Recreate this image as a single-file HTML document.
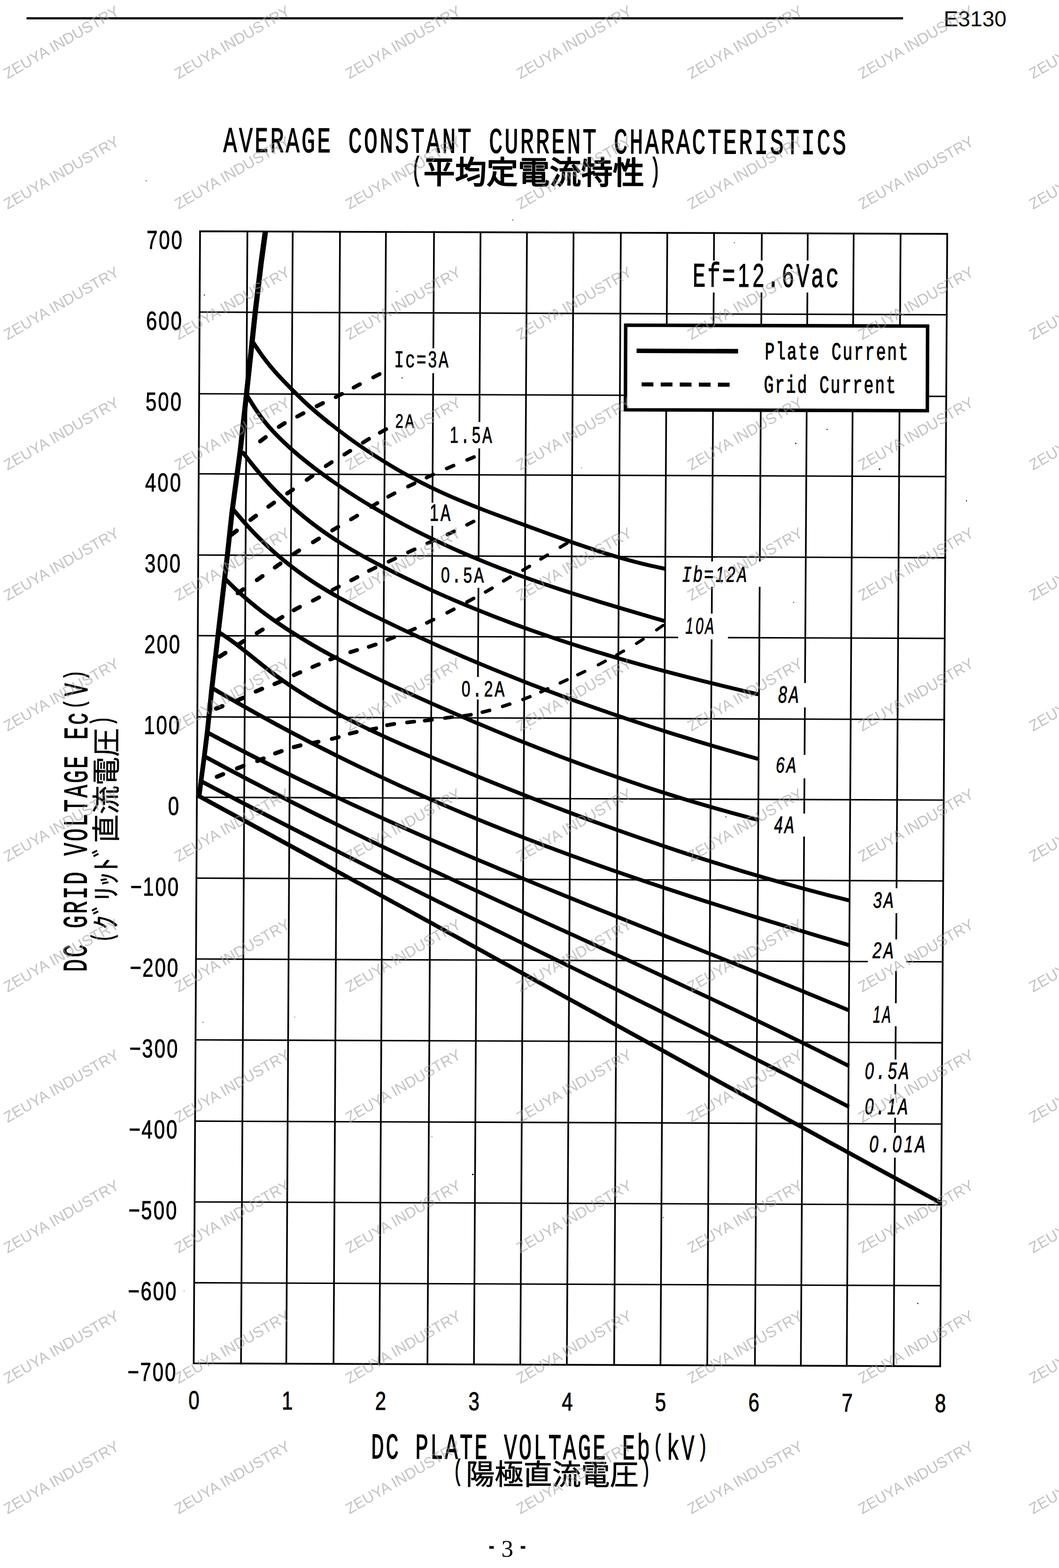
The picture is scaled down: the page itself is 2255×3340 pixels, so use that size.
<!DOCTYPE html>
<html lang="en"><head><meta charset="utf-8"><title>E3130 - Average Constant Current Characteristics</title>
<style>html,body{margin:0;padding:0;background:#fff}body{width:2255px;height:3340px;overflow:hidden}svg{display:block}text{font-family:"Liberation Mono",monospace;white-space:pre;text-rendering:geometricPrecision}.wm text,tspan.d{font-family:"Liberation Sans",sans-serif}</style></head><body>
<svg width="2255" height="3340" viewBox="0 0 2255 3340">
<rect width="2255" height="3340" fill="#fff"/>
<rect x="56.5" y="36.7" width="1866.5" height="4.6" fill="#000"/>
<text x="2009.5" y="56" font-family="Liberation Sans" style="font-family:'Liberation Sans',sans-serif" font-size="46.2" textLength="133.6" fill="#000">E3130</text>
<g stroke="#000" fill="none" stroke-linecap="square">
<line x1="526.8" y1="492.9" x2="513.2" y2="2904.4" stroke-width="3.6"/>
<line x1="623.3" y1="493.3" x2="609.6" y2="2904.8" stroke-width="3.6"/>
<line x1="724" y1="493.6" x2="710.2" y2="2905.2" stroke-width="3.6"/>
<line x1="821.8" y1="494" x2="807.9" y2="2905.6" stroke-width="3.6"/>
<line x1="924.2" y1="494.4" x2="910.2" y2="2906" stroke-width="3.6"/>
<line x1="1023.2" y1="494.7" x2="1009.2" y2="2906.4" stroke-width="3.6"/>
<line x1="1122.1" y1="495.1" x2="1107.9" y2="2906.8" stroke-width="3.6"/>
<line x1="1221.3" y1="495.4" x2="1207" y2="2907.2" stroke-width="3.6"/>
<line x1="1322" y1="495.8" x2="1307.7" y2="2907.5" stroke-width="3.6"/>
<line x1="1420.9" y1="496.1" x2="1406.4" y2="2907.9" stroke-width="3.6"/>
<line x1="1520.5" y1="496.4" x2="1506" y2="2908.3" stroke-width="3.6"/>
<line x1="1622.2" y1="496.8" x2="1607.5" y2="2908.7" stroke-width="3.6"/>
<line x1="1720" y1="497.1" x2="1705.3" y2="2909.1" stroke-width="3.6"/>
<line x1="1817.8" y1="497.5" x2="1803" y2="2909.5" stroke-width="3.6"/>
<line x1="1917.7" y1="497.9" x2="1902.8" y2="2909.9" stroke-width="3.6"/>
<line x1="425" y1="664.8" x2="2015.9" y2="670.5" stroke-width="3.1"/>
<line x1="424.1" y1="838.7" x2="2014.9" y2="844.4" stroke-width="3.1"/>
<line x1="423.1" y1="1009.3" x2="2013.8" y2="1015.1" stroke-width="3.1"/>
<line x1="422.1" y1="1182.3" x2="2012.7" y2="1188.1" stroke-width="3.1"/>
<line x1="421.2" y1="1354" x2="2011.6" y2="1359.9" stroke-width="3.1"/>
<line x1="420.2" y1="1527" x2="2010.6" y2="1532.9" stroke-width="3.1"/>
<line x1="419.2" y1="1698.3" x2="2009.5" y2="1704.2" stroke-width="3.1"/>
<line x1="418.3" y1="1870.5" x2="2008.4" y2="1876.5" stroke-width="3.1"/>
<line x1="417.3" y1="2042.8" x2="2007.4" y2="2048.8" stroke-width="3.1"/>
<line x1="416.4" y1="2215" x2="2006.3" y2="2221.1" stroke-width="3.1"/>
<line x1="415.4" y1="2388.1" x2="2005.2" y2="2394.2" stroke-width="3.1"/>
<line x1="414.4" y1="2560.2" x2="2004.1" y2="2566.4" stroke-width="3.1"/>
<line x1="413.5" y1="2732.4" x2="2003.1" y2="2738.6" stroke-width="3.1"/>
</g>
<g fill="#fff">
<rect x="1470" y="555" width="322" height="68"/>
<rect x="836" y="742" width="124" height="53"/>
<rect x="955" y="899" width="98" height="56"/>
<rect x="912" y="1071" width="52" height="49"/>
<rect x="934" y="1195" width="102" height="57"/>
<rect x="978" y="1442" width="102" height="48"/>
<rect x="1446" y="1196" width="179" height="54"/>
<rect x="1444" y="1307" width="106" height="55"/>
<rect x="1650" y="1455" width="70" height="52"/>
<rect x="1646" y="1608" width="74" height="50"/>
<rect x="1640" y="1733" width="80" height="49"/>
<rect x="1852" y="1892" width="63" height="53"/>
<rect x="1848" y="2001" width="82" height="67"/>
<rect x="1852" y="2137" width="63" height="49"/>
<rect x="1836" y="2257" width="104" height="52"/>
<rect x="1836" y="2331" width="104" height="50"/>
<rect x="1845" y="2413" width="130" height="53"/>
</g>
<path d="M426 492.6 L2017 498.2 L2002 2910.3 L412.5 2904 Z" fill="none" stroke="#000" stroke-width="3.7" stroke-linejoin="miter"/>
<path d="M1332.3 692.6 L1975.2 694.6 L1974.6 874.9 L1331.7 872.9 Z" fill="#fff" stroke="#000" stroke-width="7.4"/>
<line x1="1355.6" y1="747.3" x2="1571.7" y2="748.1" stroke="#000" stroke-width="9.6"/>
<line x1="1366.3" y1="818.8" x2="1553.7" y2="819.5" stroke="#000" stroke-width="8.6" stroke-dasharray="25 15.6"/>
<g fill="none" stroke="#000" stroke-width="7" stroke-linecap="butt" stroke-linejoin="round">
<path d="M538 727.9C538.9 729.3 539.9 730.7 540.8 732.1C546.8 740.9 552.5 749.8 558.8 758.4C564.6 766.2 570.6 773.9 576.8 781.4C582.6 788.4 588.7 795.1 594.8 801.8C600.7 808.2 606.7 814.4 612.8 820.6C618.7 826.8 624.7 832.8 630.8 838.8C636.7 844.7 642.7 850.5 648.8 856.3C654.7 861.8 660.7 867.2 666.8 872.5C672.7 877.7 678.7 882.7 684.8 887.7C690.7 892.7 696.8 897.5 702.8 902.3C708.8 907 714.8 911.7 720.8 916.3C726.8 920.9 732.8 925.4 738.8 929.8C744.8 934.2 750.8 938.5 756.8 942.8C771.6 953.3 786.6 963.4 801.8 973.1C816.6 982.6 831.6 991.8 846.8 1000.6C861.6 1009.1 876.6 1017.3 891.8 1025.2C906.6 1032.9 921.6 1040.2 936.8 1047.2C951.7 1054.1 966.7 1060.6 981.8 1066.9C996.7 1073.2 1011.7 1079.1 1026.8 1085C1041.7 1090.8 1056.8 1096.3 1071.8 1101.9C1086.8 1107.4 1101.8 1112.9 1116.8 1118.3C1131.8 1123.8 1146.8 1129.3 1161.8 1134.8C1176.8 1140.2 1191.8 1145.7 1206.8 1151C1221.8 1156.3 1236.7 1161.5 1251.8 1166.5C1266.7 1171.5 1281.7 1176.4 1296.8 1181C1311.7 1185.6 1326.7 1190 1341.8 1194.1C1356.7 1198.1 1371.7 1202 1386.8 1205.3C1396.7 1207.6 1406.7 1209.5 1416.7 1211.6" stroke-width="8.3"/>
<path d="M538 727.9C538.9 729.3 539.9 730.7 540.8 732.1C546.8 740.9 552.5 749.8 558.8 758.4C564.6 766.2 570.6 773.9 576.8 781.4C582.6 788.4 588.7 795.1 594.8 801.8C600.7 808.2 606.7 814.4 612.8 820.6C618.7 826.8 624.7 832.8 630.8 838.8C636.7 844.7 642.7 850.5 648.8 856.3C654.7 861.8 660.7 867.2 666.8 872.5C672.7 877.7 678.7 882.7 684.8 887.7C690.7 892.7 696.8 897.4 702.8 902.3" stroke-width="8.6"/>
<path d="M524.1 839.5C525 840.9 525.9 842.4 526.8 843.8C532.8 853.3 538.5 863.1 544.8 872.4C550.5 880.8 556.4 889.2 562.8 897.2C568.5 904.4 574.6 911.3 580.8 918.1C586.6 924.4 592.7 930.5 598.8 936.5C604.7 942.3 610.7 947.9 616.8 953.4C622.7 958.8 628.7 964 634.8 969.1C640.7 974.1 646.7 979 652.8 983.8C658.7 988.6 664.8 993.2 670.8 997.8C676.8 1002.4 682.8 1006.9 688.8 1011.3C694.8 1015.6 700.8 1019.9 706.8 1024.2C712.8 1028.4 718.8 1032.5 724.8 1036.6C730.8 1040.6 736.8 1044.6 742.8 1048.5C757.6 1058.2 772.6 1067.5 787.8 1076.6C802.6 1085.5 817.7 1094.2 832.8 1102.6C847.7 1110.8 862.7 1118.9 877.8 1126.7C892.7 1134.3 907.7 1141.8 922.8 1149C937.7 1156.2 952.7 1163.1 967.8 1169.9C982.7 1176.5 997.7 1183 1012.8 1189.2C1027.7 1195.5 1042.7 1201.5 1057.8 1207.4C1072.7 1213.2 1087.7 1218.8 1102.8 1224.3C1117.7 1229.8 1132.8 1235.1 1147.8 1240.3C1162.8 1245.5 1177.8 1250.5 1192.8 1255.5C1207.8 1260.4 1222.8 1265.2 1237.8 1269.9C1252.8 1274.6 1267.8 1279.2 1282.8 1283.8C1297.8 1288.4 1312.8 1292.8 1327.8 1297.3C1342.8 1301.7 1357.8 1306.1 1372.8 1310.5C1387.4 1314.8 1402.1 1319 1416.7 1323.3" stroke-width="8.3"/>
<path d="M524.1 839.5C525 840.9 525.9 842.4 526.8 843.8C532.8 853.3 538.5 863.1 544.8 872.4C550.5 880.8 556.4 889.2 562.8 897.2C568.5 904.4 574.6 911.3 580.8 918.1C586.6 924.4 592.7 930.5 598.8 936.5C604.7 942.3 610.7 947.9 616.8 953.4C622.7 958.8 628.7 964 634.8 969.1C640.7 974.1 646.7 979 652.8 983.8C658.7 988.6 664.8 993.2 670.8 997.8C676.8 1002.4 682.8 1006.9 688.8 1011.3C694.8 1015.6 700.8 1019.9 706.8 1024.2" stroke-width="8.6"/>
<path d="M515.9 962.3C516.9 963.6 518 964.9 519 966.2C525 973.9 530.9 981.6 537 989.2C542.9 996.5 548.9 1003.7 555 1010.7C560.9 1017.5 566.9 1024.2 573 1030.8C578.9 1037.2 584.9 1043.5 591 1049.7C596.9 1055.6 602.9 1061.5 609 1067.2C614.9 1072.8 620.9 1078.3 627 1083.6C632.9 1088.9 638.9 1094 645 1099C650.9 1103.9 656.9 1108.7 663 1113.4C668.9 1118 674.9 1122.4 681 1126.8C686.9 1131.1 692.9 1135.4 699 1139.5C704.9 1143.5 710.9 1147.5 717 1151.4C723 1155.2 729 1159 735 1162.7C749.8 1171.7 764.8 1180.2 780 1188.5C794.8 1196.6 809.9 1204.4 825 1212C839.9 1219.6 854.9 1227 870 1234.3C884.9 1241.5 899.9 1248.5 915 1255.4C929.9 1262.2 944.9 1268.9 960 1275.4C974.9 1281.9 989.9 1288.2 1005 1294.4C1019.9 1300.5 1034.9 1306.5 1050 1312.4C1064.9 1318.2 1080 1323.9 1095 1329.5C1110 1335 1125 1340.4 1140 1345.7C1155 1351 1170 1356.1 1185 1361.2C1200 1366.2 1215 1371.1 1230 1375.8C1245 1380.6 1260 1385.3 1275 1389.8C1290 1394.4 1305 1398.8 1320 1403.2C1335 1407.6 1350 1411.8 1365 1416C1380 1420.2 1395 1424.2 1410 1428.3C1425 1432.3 1440 1436.2 1455 1440C1470 1443.9 1485 1447.7 1500 1451.4C1515 1455.2 1530 1458.8 1545 1462.5C1560 1466.1 1575 1469.7 1590 1473.2C1598.8 1475.3 1607.7 1477.3 1616.5 1479.4" stroke-width="8.3"/>
<path d="M515.9 962.3C516.9 963.6 518 964.9 519 966.2C525 973.9 530.9 981.6 537 989.2C542.9 996.5 548.9 1003.7 555 1010.7C560.9 1017.5 566.9 1024.2 573 1030.8C578.9 1037.2 584.9 1043.5 591 1049.7C596.9 1055.6 602.9 1061.5 609 1067.2C614.9 1072.8 620.9 1078.3 627 1083.6C632.9 1088.9 638.9 1094 645 1099C650.9 1103.9 656.9 1108.7 663 1113.4C668.9 1118 674.9 1122.4 681 1126.8C686.9 1131.1 692.9 1135.4 699 1139.5C704.9 1143.5 711 1147.4 717 1151.4" stroke-width="8.6"/>
<path d="M495.8 1084.2C496.8 1085.4 497.9 1086.7 499 1088C505 1095 510.9 1102.2 517 1109.1C522.9 1115.8 528.9 1122.4 535 1128.9C540.9 1135.1 546.9 1141.3 553 1147.3C558.9 1153.2 564.9 1159 571 1164.6C576.9 1170.1 582.9 1175.5 589 1180.8C594.9 1185.9 600.9 1190.9 607 1195.9C612.9 1200.7 618.9 1205.4 625 1210C630.9 1214.5 636.9 1218.9 643 1223.3C648.9 1227.5 654.9 1231.6 661 1235.7C666.9 1239.7 672.9 1243.6 679 1247.4C685 1251.2 691 1254.9 697 1258.5C703 1262.1 709 1265.6 715 1269C729.8 1277.5 744.9 1285.4 760 1293.3C774.9 1301 789.9 1308.4 805 1315.8C819.9 1323.1 835 1330.3 850 1337.4C865 1344.5 880 1351.5 895 1358.4C910 1365.2 925 1372 940 1378.7C955 1385.3 970 1391.9 985 1398.3C1000 1404.7 1015 1411.1 1030 1417.3C1045 1423.6 1060 1429.7 1075 1435.7C1090 1441.8 1105 1447.7 1120 1453.6C1135 1459.4 1150 1465.2 1165 1470.8C1180 1476.5 1195 1482.1 1210 1487.6C1225 1493 1240 1498.4 1255 1503.7C1270 1509 1285 1514.3 1300 1519.4C1315 1524.6 1330 1529.6 1345 1534.6C1360 1539.6 1375 1544.5 1390 1549.4C1405 1554.2 1420 1559 1435 1563.7C1450 1568.3 1465 1573 1480 1577.5C1495 1582.1 1510 1586.6 1525 1591C1540 1595.4 1555 1599.8 1570 1604.1C1585 1608.4 1600 1612.5 1615 1616.8" stroke-width="8.3"/>
<path d="M495.8 1084.2C496.8 1085.4 497.9 1086.7 499 1088C505 1095 510.9 1102.2 517 1109.1C522.9 1115.8 528.9 1122.4 535 1128.9C540.9 1135.1 546.9 1141.3 553 1147.3C558.9 1153.2 564.9 1159 571 1164.6C576.9 1170.1 582.9 1175.5 589 1180.8C594.9 1185.9 600.9 1190.9 607 1195.9C612.9 1200.7 618.9 1205.4 625 1210C630.9 1214.5 636.9 1218.9 643 1223.3C648.9 1227.5 654.9 1231.6 661 1235.7C666.9 1239.7 672.9 1243.6 679 1247.4C685 1251.2 691 1254.9 697 1258.5C703 1262.1 709 1265.5 715 1269" stroke-width="8.6"/>
<path d="M477.4 1231.1C478.6 1232.2 479.8 1233.4 481 1234.6C487 1240.5 492.9 1246.5 499 1252.3C504.9 1257.9 510.9 1263.5 517 1268.9C522.9 1274.1 528.9 1279.3 535 1284.3C540.9 1289.2 546.9 1294 553 1298.8C558.9 1303.4 564.9 1307.9 571 1312.3C576.9 1316.7 582.9 1321 589 1325.2C595 1329.3 601 1333.4 607 1337.4C613 1341.3 619 1345.2 625 1349C631 1352.8 637 1356.5 643 1360.2C649 1363.9 655 1367.5 661 1371C667 1374.6 673 1378 679 1381.5C685 1384.9 691 1388.2 697 1391.5C711.9 1399.7 726.9 1407.6 742 1415.4C756.9 1423 771.9 1430.4 787 1437.6C801.9 1444.9 817 1451.9 832 1458.9C847 1465.8 862 1472.7 877 1479.5C892 1486.3 907 1493 922 1499.7C937 1506.3 952 1512.9 967 1519.4C982 1525.9 997 1532.3 1012 1538.7C1027 1545 1042 1551.3 1057 1557.5C1072 1563.7 1087 1569.8 1102 1575.9C1117 1581.9 1132 1587.9 1147 1593.7C1162 1599.6 1177 1605.4 1192 1611.1C1207 1616.8 1222 1622.4 1237 1627.9C1252 1633.4 1267 1638.9 1282 1644.2C1297 1649.5 1312 1654.8 1327 1659.9C1342 1665.1 1357 1670.1 1372 1675.1C1387 1680.1 1402 1684.9 1417 1689.7C1432 1694.5 1447 1699.1 1462 1703.7C1477 1708.2 1492 1712.7 1507 1717.1C1522 1721.4 1537 1725.7 1552 1729.8C1567 1734 1582 1738 1597 1741.9C1603.2 1743.6 1609.3 1745.1 1615.5 1746.7" stroke-width="8.3"/>
<path d="M477.4 1231.1C478.6 1232.2 479.8 1233.4 481 1234.6C487 1240.5 492.9 1246.5 499 1252.3C504.9 1257.9 510.9 1263.5 517 1268.9C522.9 1274.1 528.9 1279.3 535 1284.3C540.9 1289.2 546.9 1294 553 1298.8C558.9 1303.4 564.9 1307.9 571 1312.3C576.9 1316.7 582.9 1321 589 1325.2C595 1329.3 601 1333.4 607 1337.4C613 1341.3 619 1345.2 625 1349C631 1352.8 637 1356.5 643 1360.2C649 1363.9 655 1367.5 661 1371C667 1374.6 673 1378 679 1381.5C685 1384.9 691 1388.2 697 1391.5" stroke-width="8.6"/>
<path d="M463.8 1345.2C465.2 1346.1 466.6 1347 468 1347.9C474 1351.9 480.1 1355.8 486 1359.9C492.1 1364.1 498.1 1368.6 504 1373.1C510.1 1377.7 516 1382.4 522 1387.1C528 1391.9 534 1396.8 540 1401.6C546 1406.4 552 1411.3 558 1416.1C564 1420.9 569.9 1425.6 576 1430.2C581.9 1434.8 587.9 1439.3 594 1443.7C599.9 1448 605.9 1452.2 612 1456.4C617.9 1460.5 624 1464.5 630 1468.4C636 1472.3 642 1476.1 648 1479.8C654 1483.5 660 1487.2 666 1490.7C672 1494.3 678 1497.7 684 1501.2C698.8 1509.6 713.9 1517.7 729 1525.6C743.9 1533.3 758.9 1540.8 774 1548.1C788.9 1555.4 803.9 1562.4 819 1569.3C833.9 1576.2 849 1582.8 864 1589.4C879 1596 894 1602.4 909 1608.8C924 1615.2 939 1621.5 954 1627.8C969 1634.1 984 1640.3 999 1646.5C1014 1652.7 1029 1658.8 1044 1664.9C1059 1670.9 1074 1676.9 1089 1682.9C1104 1688.9 1119 1694.8 1134 1700.6C1149 1706.4 1164 1712.2 1179 1718C1194 1723.7 1209 1729.3 1224 1735C1239 1740.6 1254 1746.1 1269 1751.6C1284 1757.1 1299 1762.5 1314 1767.8C1329 1773.2 1344 1778.5 1359 1783.7C1374 1788.9 1389 1794 1404 1799.1C1419 1804.2 1434 1809.2 1449 1814.2C1464 1819.1 1479 1824 1494 1828.8C1509 1833.6 1524 1838.3 1539 1842.9C1554 1847.6 1569 1852.2 1584 1856.7C1599 1861.2 1614 1865.6 1629 1869.9C1644 1874.3 1659 1878.5 1674 1882.7C1689 1886.9 1704 1891 1719 1895.1C1734 1899.1 1749 1903 1764 1906.9C1779 1910.7 1794 1914.4 1809 1918.2" stroke-width="8.3"/>
<path d="M463.8 1345.2C465.2 1346.1 466.6 1347 468 1347.9C474 1351.9 480.1 1355.8 486 1359.9C492.1 1364.1 498.1 1368.6 504 1373.1C510.1 1377.7 516 1382.4 522 1387.1C528 1391.9 534 1396.8 540 1401.6C546 1406.4 552 1411.3 558 1416.1C564 1420.9 569.9 1425.6 576 1430.2C581.9 1434.8 587.9 1439.3 594 1443.7C599.9 1448 605.9 1452.2 612 1456.4C617.9 1460.5 624 1464.5 630 1468.4C636 1472.3 642 1476.1 648 1479.8C654 1483.5 660 1487.2 666 1490.7C672 1494.3 678 1497.7 684 1501.2" stroke-width="8.6"/>
<path d="M450.7 1465C452.1 1465.8 453.6 1466.7 455 1467.5C461 1471 467 1474.6 473 1478.1C479 1481.6 485 1485.1 491 1488.6C497 1492 503 1495.5 509 1498.9C515 1502.3 521 1505.7 527 1509.1C533 1512.5 539 1515.8 545 1519.2C551 1522.5 557 1525.8 563 1529.1C569 1532.4 575 1535.7 581 1539C587 1542.3 593 1545.5 599 1548.7C605 1551.9 611 1555.1 617 1558.3C623 1561.5 629 1564.7 635 1567.8C641 1571 647 1574.1 653 1577.2C659 1580.3 665 1583.4 671 1586.5C686 1594.1 701 1601.7 716 1609.2C731 1616.6 746 1624 761 1631.2C776 1638.4 791 1645.6 806 1652.6C821 1659.6 836 1666.6 851 1673.4C866 1680.2 881 1686.9 896 1693.6C911 1700.2 926 1706.8 941 1713.2C956 1719.7 971 1726 986 1732.3C1001 1738.6 1016 1744.7 1031 1750.8C1046 1756.9 1061 1763 1076 1768.9C1091 1774.8 1106 1780.7 1121 1786.5C1136 1792.3 1151 1798 1166 1803.6C1181 1809.3 1196 1814.8 1211 1820.3C1226 1825.8 1241 1831.3 1256 1836.6C1271 1842 1286 1847.3 1301 1852.6C1316 1857.8 1331 1863 1346 1868.2C1361 1873.3 1376 1878.4 1391 1883.4C1406 1888.4 1421 1893.4 1436 1898.3C1451 1903.3 1466 1908.2 1481 1913C1496 1917.8 1511 1922.6 1526 1927.4C1541 1932.2 1556 1936.9 1571 1941.6C1586 1946.3 1601 1950.9 1616 1955.5C1631 1960.2 1646 1964.8 1661 1969.3C1676 1973.9 1691 1978.4 1706 1982.9C1721 1987.4 1736 1991.9 1751 1996.4C1766 2000.9 1781 2005.3 1796 2009.8C1799.9 2010.9 1803.9 2012.1 1807.8 2013.3" stroke-width="8.3"/>
<path d="M450.7 1465C452.1 1465.8 453.6 1466.7 455 1467.5C461 1471 467 1474.6 473 1478.1C479 1481.6 485 1485.1 491 1488.6C497 1492 503 1495.5 509 1498.9C515 1502.3 521 1505.7 527 1509.1C533 1512.5 539 1515.8 545 1519.2C551 1522.5 557 1525.8 563 1529.1C569 1532.4 575 1535.7 581 1539C587 1542.3 593 1545.5 599 1548.7C605 1551.9 611 1555.1 617 1558.3C623 1561.5 629 1564.7 635 1567.8C641 1571 647 1574.1 653 1577.2C659 1580.3 665 1583.4 671 1586.5C686 1594.1 701 1601.6 716 1609.2" stroke-width="8.6"/>
<path d="M439.6 1559.1C441.1 1559.9 442.5 1560.7 444 1561.5C450 1564.7 456 1567.9 462 1571.1C468 1574.2 474 1577.4 480 1580.6C486 1583.7 492 1586.8 498 1590C504 1593.1 510 1596.2 516 1599.3C522 1602.4 528 1605.5 534 1608.5C540 1611.6 546 1614.6 552 1617.7C558 1620.7 564 1623.7 570 1626.8C576 1629.8 582 1632.8 588 1635.8C594 1638.7 600 1641.7 606 1644.7C612 1647.6 618 1650.6 624 1653.5C630 1656.5 636 1659.4 642 1662.3C648 1665.2 654 1668.1 660 1671C675 1678.2 690 1685.4 705 1692.4C720 1699.5 735 1706.5 750 1713.5C765 1720.4 780 1727.3 795 1734.1C810 1740.9 825 1747.7 840 1754.4C855 1761.1 870 1767.8 885 1774.4C900 1781 915 1787.5 930 1794C945 1800.5 960 1807 975 1813.4C990 1819.8 1005 1826.2 1020 1832.5C1035 1838.8 1050 1845.1 1065 1851.4C1080 1857.6 1095 1863.8 1110 1870C1125 1876.2 1140 1882.4 1155 1888.5C1170 1894.7 1185 1900.8 1200 1906.9C1215 1912.9 1230 1919 1245 1925.1C1260 1931.1 1275 1937.1 1290 1943.2C1305 1949.2 1320 1955.2 1335 1961.2C1350 1967.2 1365 1973.2 1380 1979.1C1395 1985.1 1410 1991.1 1425 1997.1C1440 2003.1 1455 2009 1470 2015C1485 2021 1500 2027 1515 2033C1530 2039 1545 2045 1560 2051C1575 2057 1590 2063 1605 2069.1C1620 2075.1 1635 2081.2 1650 2087.3C1665 2093.4 1680 2099.5 1695 2105.6C1710 2111.7 1725 2117.9 1740 2124.1C1755 2130.3 1770 2136.5 1785 2142.7C1792.6 2145.9 1800.2 2149.1 1807.8 2152.2" stroke-width="8.3"/>
<path d="M439.6 1559.1C441.1 1559.9 442.5 1560.7 444 1561.5C450 1564.7 456 1567.9 462 1571.1C468 1574.2 474 1577.4 480 1580.6C486 1583.7 492 1586.8 498 1590C504 1593.1 510 1596.2 516 1599.3C522 1602.4 528 1605.5 534 1608.5C540 1611.6 546 1614.6 552 1617.7C558 1620.7 564 1623.7 570 1626.8C576 1629.8 582 1632.8 588 1635.8C594 1638.7 600 1641.7 606 1644.7C612 1647.6 618 1650.6 624 1653.5C630 1656.5 636 1659.4 642 1662.3C648 1665.2 654 1668.1 660 1671C675 1678.2 690 1685.3 705 1692.4" stroke-width="8.6"/>
<path d="M433.6 1610.1C435.1 1610.9 436.5 1611.7 438 1612.5C444 1615.7 450 1619 456 1622.2C462 1625.4 468 1628.7 474 1631.9C480 1635.1 486 1638.3 492 1641.5C498 1644.7 504 1647.8 510 1651C516 1654.2 522 1657.3 528 1660.5C534 1663.6 540 1666.7 546 1669.8C552 1673 558 1676.1 564 1679.2C570 1682.3 576 1685.4 582 1688.4C588 1691.5 594 1694.6 600 1697.7C606 1700.7 612 1703.8 618 1706.8C624 1709.9 630 1712.9 636 1715.9C642 1718.9 648 1721.9 654 1725C669 1732.5 684 1739.9 699 1747.3C714 1754.7 729 1762.1 744 1769.4C759 1776.7 774 1784 789 1791.2C804 1798.5 819 1805.7 834 1812.8C849 1820 864 1827.1 879 1834.2C894 1841.2 909 1848.3 924 1855.3C939 1862.3 954 1869.3 969 1876.3C984 1883.3 999 1890.2 1014 1897.2C1029 1904.1 1044 1911 1059 1917.9C1074 1924.8 1089 1931.7 1104 1938.6C1119 1945.4 1134 1952.3 1149 1959.2C1164 1966 1179 1972.9 1194 1979.7C1209 1986.6 1224 1993.4 1239 2000.3C1254 2007.1 1269 2014 1284 2020.9C1299 2027.7 1314 2034.6 1329 2041.5C1344 2048.4 1359 2055.3 1374 2062.2C1389 2069.1 1404 2076 1419 2083C1434 2089.9 1449 2096.9 1464 2103.9C1479 2110.9 1494 2117.9 1509 2125C1524 2132 1539 2139.1 1554 2146.2C1569 2153.4 1584 2160.5 1599 2167.7C1614 2174.9 1629 2182.1 1644 2189.4C1659 2196.7 1674 2204 1689 2211.4C1704 2218.8 1719 2226.2 1734 2233.6C1749 2241.1 1764 2248.6 1779 2256.2C1788.6 2261.1 1798.2 2265.9 1807.8 2270.8" stroke-width="8.3"/>
<path d="M433.6 1610.1C435.1 1610.9 436.5 1611.7 438 1612.5C444 1615.7 450 1619 456 1622.2C462 1625.4 468 1628.7 474 1631.9C480 1635.1 486 1638.3 492 1641.5C498 1644.7 504 1647.8 510 1651C516 1654.2 522 1657.3 528 1660.5C534 1663.6 540 1666.7 546 1669.8C552 1673 558 1676.1 564 1679.2C570 1682.3 576 1685.4 582 1688.4C588 1691.5 594 1694.6 600 1697.7C606 1700.7 612 1703.8 618 1706.8C624 1709.9 630 1712.9 636 1715.9C642 1718.9 648 1721.9 654 1725C669 1732.5 684 1739.9 699 1747.3" stroke-width="8.6"/>
<path d="M426.6 1663.3C428 1664 429.5 1664.8 431 1665.6C437 1668.7 443 1671.9 449 1675C455 1678.2 461 1681.3 467 1684.4C473 1687.5 479 1690.7 485 1693.8C491 1696.9 497 1700 503 1703.1C509 1706.3 515 1709.4 521 1712.5C527 1715.6 533 1718.7 539 1721.8C545 1724.9 551 1728 557 1731C563 1734.1 569 1737.2 575 1740.3C581 1743.4 587 1746.4 593 1749.5C599 1752.6 605 1755.7 611 1758.7C617 1761.8 623 1764.8 629 1767.9C635 1771 641 1774 647 1777.1C662 1784.7 677 1792.3 692 1799.9C707 1807.5 722 1815 737 1822.6C752 1830.1 767 1837.7 782 1845.2C797 1852.7 812 1860.2 827 1867.7C842 1875.2 857 1882.6 872 1890.1C887 1897.6 902 1905 917 1912.5C932 1919.9 947 1927.3 962 1934.7C977 1942.2 992 1949.6 1007 1957C1022 1964.4 1037 1971.8 1052 1979.2C1067 1986.6 1082 1994 1097 2001.4C1112 2008.8 1127 2016.2 1142 2023.6C1157 2031 1172 2038.3 1187 2045.7C1202 2053.1 1217 2060.5 1232 2067.9C1247 2075.3 1262 2082.7 1277 2090.1C1292 2097.5 1307 2105 1322 2112.4C1337 2119.8 1352 2127.2 1367 2134.7C1382 2142.1 1397 2149.6 1412 2157C1427 2164.5 1442 2171.9 1457 2179.4C1472 2186.9 1487 2194.4 1502 2201.9C1517 2209.4 1532 2217 1547 2224.5C1562 2232.1 1577 2239.6 1592 2247.2C1607 2254.8 1622 2262.4 1637 2270C1652 2277.6 1667 2285.3 1682 2292.9C1697 2300.6 1712 2308.3 1727 2316C1742 2323.7 1757 2331.5 1772 2339.2C1783.9 2345.4 1795.9 2351.6 1807.8 2357.8" stroke-width="8.3"/>
<path d="M426.6 1663.3C428 1664 429.5 1664.8 431 1665.6C437 1668.7 443 1671.9 449 1675C455 1678.2 461 1681.3 467 1684.4C473 1687.5 479 1690.7 485 1693.8C491 1696.9 497 1700 503 1703.1C509 1706.3 515 1709.4 521 1712.5C527 1715.6 533 1718.7 539 1721.8C545 1724.9 551 1728 557 1731C563 1734.1 569 1737.2 575 1740.3C581 1743.4 587 1746.4 593 1749.5C599 1752.6 605 1755.7 611 1758.7C617 1761.8 623 1764.8 629 1767.9C635 1771 641 1774 647 1777.1C662 1784.7 677 1792.3 692 1799.9" stroke-width="8.6"/>
<path d="M422.6 1695.2C424.1 1696 425.5 1696.8 427 1697.6C433 1700.8 439 1704.1 445 1707.3C451 1710.6 457 1713.8 463 1717.1C469 1720.3 475 1723.6 481 1726.9C487 1730.1 493 1733.4 499 1736.6C505 1739.9 511 1743.2 517 1746.4C523 1749.7 529 1752.9 535 1756.2C541 1759.5 547 1762.7 553 1766C559 1769.3 565 1772.6 571 1775.8C577 1779.1 583 1782.4 589 1785.6C595 1788.9 601 1792.2 607 1795.5C613 1798.7 619 1802 625 1805.3C631 1808.6 637 1811.8 643 1815.1C658 1823.3 673 1831.5 688 1839.7C703 1847.9 718 1856.2 733 1864.4C748 1872.6 763 1880.8 778 1889.1C793 1897.3 808 1905.5 823 1913.8C838 1922 853 1930.2 868 1938.5C883 1946.7 898 1955 913 1963.2C928 1971.5 943 1979.8 958 1988C973 1996.3 988 2004.5 1003 2012.8C1018 2021.1 1033 2029.3 1048 2037.6C1063 2045.9 1078 2054.1 1093 2062.4C1108 2070.7 1123 2079 1138 2087.2C1153 2095.5 1168 2103.8 1183 2112.1C1198 2120.3 1213 2128.6 1228 2136.9C1243 2145.2 1258 2153.5 1273 2161.7C1288 2170 1303 2178.3 1318 2186.6C1333 2194.8 1348 2203.1 1363 2211.4C1378 2219.7 1393 2227.9 1408 2236.2C1423 2244.5 1438 2252.7 1453 2261C1468 2269.3 1483 2277.5 1498 2285.8C1513 2294.1 1528 2302.3 1543 2310.6C1558 2318.8 1573 2327.1 1588 2335.3C1603 2343.6 1618 2351.8 1633 2360.1C1648 2368.3 1663 2376.5 1678 2384.8C1693 2393 1708 2401.2 1723 2409.4C1738 2417.7 1753 2425.9 1768 2434.1C1783 2442.3 1798 2450.5 1813 2458.7C1828 2466.9 1843 2475.1 1858 2483.3C1873 2491.5 1888 2499.6 1903 2507.8C1918 2516 1933 2524.1 1948 2532.3C1963 2540.5 1978 2548.6 1993 2556.7C1996.3 2558.5 1999.6 2560.3 2002.9 2562.1" stroke-width="8.8"/>
<path d="M422.6 1695.2C424.1 1696 425.5 1696.8 427 1697.6C433 1700.8 439 1704.1 445 1707.3C451 1710.6 457 1713.8 463 1717.1C469 1720.3 475 1723.6 481 1726.9C487 1730.1 493 1733.4 499 1736.6C505 1739.9 511 1743.2 517 1746.4C523 1749.7 529 1752.9 535 1756.2C541 1759.5 547 1762.7 553 1766C559 1769.3 565 1772.6 571 1775.8C577 1779.1 583 1782.4 589 1785.6C595 1788.9 601 1792.2 607 1795.5C613 1798.7 619 1802 625 1805.3C631 1808.6 637 1811.8 643 1815.1C658 1823.3 673 1831.5 688 1839.7" stroke-width="9.0"/>
</g>
<path d="M559.8 492.5 L550.7 560 L538.3 665 L519.5 842 L506.3 961.8 L489.3 1088.6 L479.1 1183 L460.1 1346 L446.1 1466.9 L436.6 1559.3 L430.4 1610.3 L423.4 1664.5 L418.9 1699 L428.3 1699 L432.6 1664.5 L439.8 1610.3 L446.2 1559.3 L455.9 1466.9 L469.9 1346 L489.1 1183 L499.3 1088.6 L516.5 961.8 L529.7 842 L548.7 665 L561.3 560 L570.6 492.5 Z" fill="#000" stroke="#000" stroke-width="0.8" stroke-linejoin="round"/>
<g fill="none" stroke="#000" stroke-linecap="round">
<line x1="554" y1="940" x2="565.6" y2="931.2" stroke-width="8.9"/>
<line x1="593.8" y1="909.3" x2="606.2" y2="901.3" stroke-width="8.8"/>
<line x1="632.9" y1="887.3" x2="646.1" y2="880.3" stroke-width="8.6"/>
<line x1="674.3" y1="865.4" x2="687.7" y2="858.6" stroke-width="8.5"/>
<line x1="714.8" y1="845.9" x2="728.2" y2="839.1" stroke-width="8.4"/>
<line x1="753" y1="825.6" x2="766.4" y2="818.4" stroke-width="8.3"/>
<line x1="794.7" y1="803.8" x2="808.3" y2="796.8" stroke-width="8.1"/>
<line x1="492.7" y1="1139.2" x2="504.1" y2="1130.4" stroke-width="9.1"/>
<line x1="533.4" y1="1107.4" x2="545" y2="1098.6" stroke-width="8.9"/>
<line x1="571.5" y1="1079.3" x2="583.5" y2="1070.7" stroke-width="8.8"/>
<line x1="611.5" y1="1051.2" x2="623.7" y2="1042.8" stroke-width="8.7"/>
<line x1="653.1" y1="1022.2" x2="665.3" y2="1013.6" stroke-width="8.6"/>
<line x1="693.7" y1="992.8" x2="706.3" y2="984.4" stroke-width="8.4"/>
<line x1="733.2" y1="968.3" x2="746" y2="960.3" stroke-width="8.3"/>
<line x1="772.6" y1="942.9" x2="785.6" y2="934.9" stroke-width="8.2"/>
<line x1="808.8" y1="921.8" x2="822.2" y2="914.2" stroke-width="8.1"/>
<line x1="506.2" y1="1263.5" x2="518.2" y2="1255.3" stroke-width="9"/>
<line x1="547" y1="1235.6" x2="559" y2="1227.2" stroke-width="8.9"/>
<line x1="585.2" y1="1208.8" x2="597.2" y2="1200.4" stroke-width="8.8"/>
<line x1="624.5" y1="1180.7" x2="636.9" y2="1172.5" stroke-width="8.7"/>
<line x1="666.4" y1="1155" x2="679.2" y2="1147.2" stroke-width="8.5"/>
<line x1="707.3" y1="1129.9" x2="720.3" y2="1122.1" stroke-width="8.4"/>
<line x1="747.5" y1="1106.3" x2="760.5" y2="1098.5" stroke-width="8.3"/>
<line x1="790.3" y1="1079.6" x2="803.5" y2="1071.6" stroke-width="8.2"/>
<line x1="826.6" y1="1058.1" x2="840.2" y2="1050.7" stroke-width="8"/>
<line x1="868.8" y1="1036.4" x2="882.8" y2="1029.6" stroke-width="7.9"/>
<line x1="908.3" y1="1017.4" x2="922.5" y2="1010.8" stroke-width="7.8"/>
<line x1="951.2" y1="998" x2="965.8" y2="991.8" stroke-width="7.7"/>
<line x1="994.6" y1="979.7" x2="1009.4" y2="973.5" stroke-width="7.5"/>
<line x1="467.9" y1="1398.5" x2="479.9" y2="1390.7" stroke-width="9.1"/>
<line x1="507.3" y1="1373" x2="519.5" y2="1365.2" stroke-width="9"/>
<line x1="546.8" y1="1348.8" x2="559.2" y2="1341" stroke-width="8.9"/>
<line x1="588.7" y1="1322" x2="601.3" y2="1314.2" stroke-width="8.8"/>
<line x1="625.5" y1="1299.9" x2="638.5" y2="1292.9" stroke-width="8.7"/>
<line x1="666.2" y1="1279.5" x2="679.4" y2="1272.5" stroke-width="8.5"/>
<line x1="708.1" y1="1256.6" x2="721.5" y2="1249.6" stroke-width="8.4"/>
<line x1="747.7" y1="1236.2" x2="761.1" y2="1229.2" stroke-width="8.3"/>
<line x1="785.7" y1="1215.9" x2="799.5" y2="1209.1" stroke-width="8.2"/>
<line x1="827.5" y1="1196.3" x2="841.5" y2="1189.7" stroke-width="8"/>
<line x1="868.7" y1="1176.7" x2="882.9" y2="1170.1" stroke-width="7.9"/>
<line x1="909.9" y1="1157.5" x2="924.1" y2="1151.1" stroke-width="7.8"/>
<line x1="952.8" y1="1138.6" x2="967.2" y2="1131.8" stroke-width="7.7"/>
<line x1="994.4" y1="1117.8" x2="1008.6" y2="1110.6" stroke-width="7.5"/>
<line x1="460.2" y1="1509.4" x2="473.6" y2="1504.2" stroke-width="9.1"/>
<line x1="504.9" y1="1492.1" x2="518.1" y2="1486.3" stroke-width="9"/>
<line x1="544.7" y1="1473" x2="558.1" y2="1467.2" stroke-width="8.9"/>
<line x1="584.4" y1="1457.1" x2="598" y2="1451.3" stroke-width="8.8"/>
<line x1="625.8" y1="1438.1" x2="639.4" y2="1432.1" stroke-width="8.7"/>
<line x1="665.1" y1="1420.9" x2="678.9" y2="1415.1" stroke-width="8.5"/>
<line x1="703.3" y1="1404.7" x2="717.3" y2="1399.3" stroke-width="8.4"/>
<line x1="745.9" y1="1389.2" x2="760.3" y2="1384.6" stroke-width="8.3"/>
<line x1="785.3" y1="1377.9" x2="799.9" y2="1372.9" stroke-width="8.2"/>
<line x1="824.7" y1="1362.9" x2="839.1" y2="1357.3" stroke-width="8.1"/>
<line x1="869.4" y1="1345.4" x2="883.6" y2="1339.2" stroke-width="7.9"/>
<line x1="909" y1="1326.7" x2="923" y2="1319.7" stroke-width="7.8"/>
<line x1="952.3" y1="1305.2" x2="966.3" y2="1297.8" stroke-width="7.7"/>
<line x1="994.4" y1="1282.4" x2="1008.4" y2="1274.8" stroke-width="7.5"/>
<line x1="1034" y1="1260.9" x2="1047.8" y2="1252.9" stroke-width="7.4"/>
<line x1="1072.4" y1="1237.3" x2="1086.4" y2="1229.1" stroke-width="7.3"/>
<line x1="1113.4" y1="1214.6" x2="1127.4" y2="1206.4" stroke-width="7.2"/>
<line x1="1151.7" y1="1190.8" x2="1165.7" y2="1182.2" stroke-width="7.1"/>
<line x1="1192.9" y1="1165.8" x2="1207.1" y2="1157.2" stroke-width="6.9"/>
<line x1="461.9" y1="1654.5" x2="475.1" y2="1649.1" stroke-width="9.1"/>
<line x1="504.8" y1="1636.8" x2="518.2" y2="1631.6" stroke-width="9"/>
<line x1="547.8" y1="1621" x2="561.4" y2="1615.6" stroke-width="8.9"/>
<line x1="585.9" y1="1604.9" x2="599.7" y2="1599.9" stroke-width="8.8"/>
<line x1="625.4" y1="1591.5" x2="639.8" y2="1587.7" stroke-width="8.7"/>
<line x1="663.6" y1="1583.2" x2="678.2" y2="1580" stroke-width="8.5"/>
<line x1="706.6" y1="1574" x2="721.2" y2="1570.2" stroke-width="8.4"/>
<line x1="744.7" y1="1562.7" x2="759.5" y2="1559.1" stroke-width="8.3"/>
<line x1="786.1" y1="1554.6" x2="801.1" y2="1551.4" stroke-width="8.2"/>
<line x1="824.2" y1="1544.8" x2="839.4" y2="1542" stroke-width="8.1"/>
<line x1="866.7" y1="1538.9" x2="882.1" y2="1537.1" stroke-width="7.9"/>
<line x1="904.3" y1="1535.1" x2="919.9" y2="1533.3" stroke-width="7.8"/>
<line x1="947.4" y1="1529.5" x2="963" y2="1527.5" stroke-width="7.7"/>
<line x1="987.1" y1="1525" x2="1002.9" y2="1522.4" stroke-width="7.6"/>
<line x1="1027" y1="1517.1" x2="1042.6" y2="1513.1" stroke-width="7.4"/>
<line x1="1070.2" y1="1504.8" x2="1085.6" y2="1499.8" stroke-width="7.3"/>
<line x1="1113.3" y1="1490" x2="1128.5" y2="1484" stroke-width="7.2"/>
<line x1="1151.6" y1="1473.9" x2="1166.6" y2="1467.1" stroke-width="7.1"/>
<line x1="1192.8" y1="1454.8" x2="1207.8" y2="1447.8" stroke-width="6.9"/>
<line x1="1230.2" y1="1437.4" x2="1245.2" y2="1430.2" stroke-width="6.8"/>
<line x1="1274" y1="1416.1" x2="1289" y2="1408.3" stroke-width="6.7"/>
<line x1="1313.1" y1="1395" x2="1327.9" y2="1386.6" stroke-width="6.6"/>
<line x1="1355.3" y1="1370.8" x2="1369.7" y2="1361.6" stroke-width="6.5"/>
<line x1="1398" y1="1341.8" x2="1412" y2="1332.2" stroke-width="6.4"/>
</g>
<g fill="#000"><circle cx="1954.3" cy="2776.5" r="1.3"/><circle cx="1761.2" cy="914.8" r="1.2"/><circle cx="1694.3" cy="944.6" r="1.4"/><circle cx="1872.9" cy="999.3" r="1.6"/><circle cx="311.3" cy="385.3" r="1.0"/><circle cx="1092" cy="468.7" r="1.0"/><circle cx="435.2" cy="628.4" r="1.2"/><circle cx="845.5" cy="620.7" r="0.9"/><circle cx="856.2" cy="805" r="1.2"/><circle cx="2058" cy="1067" r="1.2"/><circle cx="1690" cy="1283" r="1.0"/><circle cx="1130" cy="1552.8" r="0.9"/><circle cx="1545.6" cy="1739.8" r="1.1"/><circle cx="432.2" cy="2177.5" r="0.9"/><circle cx="627.8" cy="2166.5" r="0.8"/><circle cx="1238.5" cy="996.5" r="0.8"/><circle cx="1563.8" cy="517" r="0.9"/><circle cx="392" cy="2749.5" r="0.7"/><circle cx="1006.9" cy="2501.8" r="1.7"/><circle cx="1412.2" cy="2593.6" r="1.0"/><circle cx="919.7" cy="2421.5" r="0.8"/></g>
<text transform="translate(473.5 323.6) rotate(0.2) scale(0.6350 1)" x="26.2 78.6 130.9 183.3 235.7 288.1 340.4 392.8 445.2 497.6 549.9 602.3 654.7 707.1 759.5 811.8 864.2 916.6 969.0 1021.3 1073.7 1126.1 1178.5 1230.8 1283.2 1335.6 1388.0 1440.3 1492.7 1545.1 1597.5 1649.8 1702.2 1754.6 1807.0 1859.3 1911.7 1964.1 2016.5 2068.8" y="0 0 0 0 0 0 0 0 0 0 0 0 0 0 0 0 0 0 0 0 0 0 0 0 0 0 0 0 0 0 0 0 0 0 0 0 0 0 0 0" font-size="76.8" text-anchor="middle" fill="#000" stroke="#000" stroke-width="1.4">AVERAGE CONSTANT CURRENT CHARACTERISTICS</text>
<text transform="translate(901.5 390.5) rotate(0.21)" x="0" y="0" font-size="67.2" textLength="470.4" lengthAdjust="spacingAndGlyphs" style="font-family:'Liberation Sans','Noto Sans CJK JP',sans-serif" fill="#000" stroke="#000" stroke-width="2.5" stroke-linejoin="round">平均定電流特性</text>
<text transform="translate(872 392.5) rotate(0.2) scale(0.5175 1)" x="29.0" y="-10.4" font-size="85" text-anchor="middle" fill="#000" stroke="#000" stroke-width="2.6"><tspan font-size="68">(</tspan></text>
<text transform="translate(1380 394.3) rotate(0.2) scale(0.5175 1)" x="29.0" y="-10.4" font-size="85" text-anchor="middle" fill="#000" stroke="#000" stroke-width="2.6"><tspan font-size="68">)</tspan></text>
<text transform="translate(389.4 530.2) rotate(0.2) scale(0.7618 1)" x="-86.3 -51.8 -17.3" y="0 0 0" font-size="57.5" text-anchor="middle" fill="#000" stroke="#000" stroke-width="1"><tspan class="d" font-size="55.2">700</tspan></text>
<text transform="translate(388.4 702.4) rotate(0.2) scale(0.7618 1)" x="-86.3 -51.8 -17.3" y="0 0 0" font-size="57.5" text-anchor="middle" fill="#000" stroke="#000" stroke-width="1"><tspan class="d" font-size="55.2">600</tspan></text>
<text transform="translate(387.5 874.7) rotate(0.2) scale(0.7618 1)" x="-86.3 -51.8 -17.3" y="0 0 0" font-size="57.5" text-anchor="middle" fill="#000" stroke="#000" stroke-width="1"><tspan class="d" font-size="55.2">500</tspan></text>
<text transform="translate(386.5 1046.9) rotate(0.2) scale(0.7618 1)" x="-86.3 -51.8 -17.3" y="0 0 0" font-size="57.5" text-anchor="middle" fill="#000" stroke="#000" stroke-width="1"><tspan class="d" font-size="55.2">400</tspan></text>
<text transform="translate(385.5 1219.2) rotate(0.2) scale(0.7618 1)" x="-86.3 -51.8 -17.3" y="0 0 0" font-size="57.5" text-anchor="middle" fill="#000" stroke="#000" stroke-width="1"><tspan class="d" font-size="55.2">300</tspan></text>
<text transform="translate(384.6 1391.4) rotate(0.2) scale(0.7618 1)" x="-86.3 -51.8 -17.3" y="0 0 0" font-size="57.5" text-anchor="middle" fill="#000" stroke="#000" stroke-width="1"><tspan class="d" font-size="55.2">200</tspan></text>
<text transform="translate(383.6 1563.7) rotate(0.2) scale(0.7618 1)" x="-86.3 -51.8 -17.3" y="0 0 0" font-size="57.5" text-anchor="middle" fill="#000" stroke="#000" stroke-width="1"><tspan class="d" font-size="55.2">100</tspan></text>
<text transform="translate(382.6 1735.9) rotate(0.2) scale(0.7618 1)" x="-17.3" y="0" font-size="57.5" text-anchor="middle" fill="#000" stroke="#000" stroke-width="1"><tspan class="d" font-size="55.2">0</tspan></text>
<text transform="translate(381.7 1908.1) rotate(0.2) scale(0.7618 1)" x="-120.8 -86.3 -51.8 -17.3" y="0 0 0 0" font-size="57.5" text-anchor="middle" fill="#000" stroke="#000" stroke-width="1"><tspan class="d" font-size="55.2">−100</tspan></text>
<text transform="translate(380.7 2080.4) rotate(0.2) scale(0.7618 1)" x="-120.8 -86.3 -51.8 -17.3" y="0 0 0 0" font-size="57.5" text-anchor="middle" fill="#000" stroke="#000" stroke-width="1"><tspan class="d" font-size="55.2">−200</tspan></text>
<text transform="translate(379.8 2252.6) rotate(0.2) scale(0.7618 1)" x="-120.8 -86.3 -51.8 -17.3" y="0 0 0 0" font-size="57.5" text-anchor="middle" fill="#000" stroke="#000" stroke-width="1"><tspan class="d" font-size="55.2">−300</tspan></text>
<text transform="translate(378.8 2424.9) rotate(0.2) scale(0.7618 1)" x="-120.8 -86.3 -51.8 -17.3" y="0 0 0 0" font-size="57.5" text-anchor="middle" fill="#000" stroke="#000" stroke-width="1"><tspan class="d" font-size="55.2">−400</tspan></text>
<text transform="translate(377.8 2597.1) rotate(0.2) scale(0.7618 1)" x="-120.8 -86.3 -51.8 -17.3" y="0 0 0 0" font-size="57.5" text-anchor="middle" fill="#000" stroke="#000" stroke-width="1"><tspan class="d" font-size="55.2">−500</tspan></text>
<text transform="translate(376.9 2769.4) rotate(0.2) scale(0.7618 1)" x="-120.8 -86.3 -51.8 -17.3" y="0 0 0 0" font-size="57.5" text-anchor="middle" fill="#000" stroke="#000" stroke-width="1"><tspan class="d" font-size="55.2">−600</tspan></text>
<text transform="translate(375.9 2941.6) rotate(0.2) scale(0.7618 1)" x="-120.8 -86.3 -51.8 -17.3" y="0 0 0 0" font-size="57.5" text-anchor="middle" fill="#000" stroke="#000" stroke-width="1"><tspan class="d" font-size="55.2">−700</tspan></text>
<text transform="translate(413 3001.4) rotate(0.2) scale(0.7679 1)" x="0.0" y="0" font-size="57.1" text-anchor="middle" fill="#000" stroke="#000" stroke-width="1"><tspan class="d" font-size="54.7">0</tspan></text>
<text transform="translate(611.7 3002.2) rotate(0.2) scale(0.7679 1)" x="0.0" y="0" font-size="57.1" text-anchor="middle" fill="#000" stroke="#000" stroke-width="1"><tspan class="d" font-size="54.7">1</tspan></text>
<text transform="translate(810.4 3003) rotate(0.2) scale(0.7679 1)" x="0.0" y="0" font-size="57.1" text-anchor="middle" fill="#000" stroke="#000" stroke-width="1"><tspan class="d" font-size="54.7">2</tspan></text>
<text transform="translate(1009.1 3003.8) rotate(0.2) scale(0.7679 1)" x="0.0" y="0" font-size="57.1" text-anchor="middle" fill="#000" stroke="#000" stroke-width="1"><tspan class="d" font-size="54.7">3</tspan></text>
<text transform="translate(1207.8 3004.6) rotate(0.2) scale(0.7679 1)" x="0.0" y="0" font-size="57.1" text-anchor="middle" fill="#000" stroke="#000" stroke-width="1"><tspan class="d" font-size="54.7">4</tspan></text>
<text transform="translate(1406.4 3005.3) rotate(0.2) scale(0.7679 1)" x="0.0" y="0" font-size="57.1" text-anchor="middle" fill="#000" stroke="#000" stroke-width="1"><tspan class="d" font-size="54.7">5</tspan></text>
<text transform="translate(1605.1 3006.1) rotate(0.2) scale(0.7679 1)" x="0.0" y="0" font-size="57.1" text-anchor="middle" fill="#000" stroke="#000" stroke-width="1"><tspan class="d" font-size="54.7">6</tspan></text>
<text transform="translate(1803.8 3006.9) rotate(0.2) scale(0.7679 1)" x="0.0" y="0" font-size="57.1" text-anchor="middle" fill="#000" stroke="#000" stroke-width="1"><tspan class="d" font-size="54.7">7</tspan></text>
<text transform="translate(2002.5 3007.7) rotate(0.2) scale(0.7679 1)" x="0.0" y="0" font-size="57.1" text-anchor="middle" fill="#000" stroke="#000" stroke-width="1"><tspan class="d" font-size="54.7">8</tspan></text>
<text transform="translate(788 3106.6) rotate(0.2) scale(0.5961 1)" x="26.4 79.2 132.0 184.8 237.6 290.3 343.1 395.9 448.7 501.5 554.3 607.1 659.9 712.7 765.5 818.2 871.0 923.8 976.6 1029.4 1082.2 1135.0 1187.8" y="0 0 0 0 0 0 0 0 0 0 0 0 0 0 0 0 0 0 0 -9.4 0 0 -9.4" font-size="77.4" text-anchor="middle" fill="#000" stroke="#000" stroke-width="1.4">DC PLATE VOLTAGE Eb<tspan font-size="61.9">(</tspan>kV<tspan font-size="61.9">)</tspan></text>
<text transform="translate(992 3162) rotate(0.21)" x="0" y="0" font-size="61.3" textLength="367.8" lengthAdjust="spacingAndGlyphs" style="font-family:'Liberation Sans','Noto Sans CJK JP',sans-serif" fill="#000" stroke="#000" stroke-width="0.9" stroke-linejoin="round">陽極直流電圧</text>
<text transform="translate(961 3161) rotate(0.2) scale(0.5410 1)" x="25.9" y="-9.3" font-size="75.9" text-anchor="middle" fill="#000" stroke="#000" stroke-width="2"><tspan font-size="60.7">(</tspan></text>
<text transform="translate(1361 3162.5) rotate(0.2) scale(0.5410 1)" x="25.9" y="-9.3" font-size="75.9" text-anchor="middle" fill="#000" stroke="#000" stroke-width="2"><tspan font-size="60.7">)</tspan></text>
<text transform="translate(183.9 2072) rotate(-89.79) scale(0.6223 1)" x="24.8 74.5 124.2 173.9 223.6 273.3 323.0 372.6 422.3 472.0 521.7 571.4 621.1 670.7 720.4 770.1 819.8 869.5 919.2 968.9 1018.5" y="0 0 0 0 0 0 0 0 0 0 0 0 0 0 0 0 0 0 -8.9 0 -8.9" font-size="72.9" text-anchor="middle" fill="#000" stroke="#000" stroke-width="1.3">DC GRID VOLTAGE Ec<tspan font-size="58.3">(</tspan>V<tspan font-size="58.3">)</tspan></text>
<text transform="translate(247.5 1980) rotate(-89.79)" x="0" y="0" font-size="61.3" textLength="429.1" lengthAdjust="spacingAndGlyphs" style="font-family:'Liberation Sans','Noto Sans CJK JP',sans-serif" fill="#000" stroke="#000" stroke-width="0.6" stroke-linejoin="round">ｸﾞﾘｯﾄﾞ直流電圧</text>
<text transform="translate(246.5 2011) rotate(-89.79) scale(0.5410 1)" x="25.9" y="-9.3" font-size="75.9" text-anchor="middle" fill="#000" stroke="#000" stroke-width="2"><tspan font-size="60.7">(</tspan></text>
<text transform="translate(245 1550) rotate(-89.79) scale(0.5410 1)" x="25.9" y="-9.3" font-size="75.9" text-anchor="middle" fill="#000" stroke="#000" stroke-width="2"><tspan font-size="60.7">)</tspan></text>
<text transform="translate(1627 765.2) rotate(0.2) scale(0.6617 1)" x="17.9 53.7 89.5 125.4 161.2 197.0 232.8 268.6 304.4 340.2 376.1 411.9 447.7" y="0 0 0 0 0 0 0 0 0 0 0 0 0" font-size="52.5" text-anchor="middle" fill="#000" stroke="#000" stroke-width="1.3">Plate Current</text>
<text transform="translate(1625 836) rotate(0.2) scale(0.6603 1)" x="17.9 53.7 89.5 125.4 161.2 197.0 232.8 268.6 304.4 340.2 376.1 411.9" y="0 0 0 0 0 0 0 0 0 0 0 0" font-size="52.5" text-anchor="middle" fill="#000" stroke="#000" stroke-width="1.3">Grid Current</text>
<text transform="translate(1473 610.3) rotate(0.2) scale(0.6340 1)" x="24.8 74.5 124.2 173.9 223.6 273.3 323.0 372.6 422.3 472.0" y="0 0 0 0 0 0 0 0 0 0" font-size="72.9" text-anchor="middle" fill="#000" stroke="#000" stroke-width="1.3">Ef=<tspan class="d" font-size="69.9">12</tspan>.<tspan class="d" font-size="69.9">6</tspan>Vac</text>
<text transform="translate(838 782.1) rotate(0.2) scale(0.6816 1)" x="17.3 52.0 86.7 121.4 156.0" y="0 0 0 0 0" font-size="50.9" text-anchor="middle" fill="#000" stroke="#000" stroke-width="0.9">Ic=<tspan class="d" font-size="48.8">3</tspan>A</text>
<text transform="translate(839.3 911) rotate(0.2) scale(0.7464 1)" x="14.6 43.9" y="0 0" font-size="42.9" text-anchor="middle" fill="#000" stroke="#000" stroke-width="0.8"><tspan class="d" font-size="41.2">2</tspan>A</text>
<text transform="translate(955.2 943.1) rotate(0.2) scale(0.6782 1)" x="17.3 51.9 86.5 121.1" y="0 0 0 0" font-size="50.7" text-anchor="middle" fill="#000" stroke="#000" stroke-width="0.9"><tspan class="d" font-size="48.7">1</tspan>.<tspan class="d" font-size="48.7">5</tspan>A</text>
<text transform="translate(912.5 1109.3) rotate(0.2) scale(0.6728 1)" x="17.8 53.5" y="0 0" font-size="52.3" text-anchor="middle" fill="#000" stroke="#000" stroke-width="1"><tspan class="d" font-size="50.2">1</tspan>A</text>
<text transform="translate(936.3 1240.5) rotate(0.2) scale(0.7319 1)" x="16.3 48.8 81.4 113.9" y="0 0 0 0" font-size="47.7" text-anchor="middle" fill="#000" stroke="#000" stroke-width="0.9"><tspan class="d" font-size="45.8">0</tspan>.<tspan class="d" font-size="45.8">5</tspan>A</text>
<text transform="translate(980.3 1483.3) rotate(0.2) scale(0.7175 1)" x="16.6 49.9 83.2 116.5" y="0 0 0 0" font-size="48.8" text-anchor="middle" fill="#000" stroke="#000" stroke-width="0.9"><tspan class="d" font-size="46.8">0</tspan>.<tspan class="d" font-size="46.8">2</tspan>A</text>
<text transform="translate(1450.7 1238.9) rotate(0.2) scale(0.7194 1)" x="16.3 48.9 81.6 114.2 146.8 179.5" y="0 0 0 0 0 0" font-size="47.9" font-style="italic" text-anchor="middle" fill="#000" stroke="#000" stroke-width="0.9">Ib=<tspan class="d" font-size="45.9">12</tspan>A</text>
<text transform="translate(1457.2 1349.8) rotate(0.2) scale(0.6211 1)" x="17.3 51.9 86.5" y="0 0 0" font-size="50.7" font-style="italic" text-anchor="middle" fill="#000" stroke="#000" stroke-width="0.9"><tspan class="d" font-size="48.7">10</tspan>A</text>
<text transform="translate(1654.4 1496.6) rotate(0.2) scale(0.6736 1)" x="17.7 53.2" y="0 0" font-size="52" font-style="italic" text-anchor="middle" fill="#000" stroke="#000" stroke-width="1"><tspan class="d" font-size="49.9">8</tspan>A</text>
<text transform="translate(1649.4 1645.4) rotate(0.2) scale(0.7122 1)" x="16.6 49.9" y="0 0" font-size="48.8" font-style="italic" text-anchor="middle" fill="#000" stroke="#000" stroke-width="0.9"><tspan class="d" font-size="46.8">6</tspan>A</text>
<text transform="translate(1645.9 1774.3) rotate(0.2) scale(0.6410 1)" x="18.2 54.5" y="0 0" font-size="53.3" font-style="italic" text-anchor="middle" fill="#000" stroke="#000" stroke-width="1"><tspan class="d" font-size="51.1">4</tspan>A</text>
<text transform="translate(1856.5 1933.5) rotate(0.2) scale(0.7108 1)" x="16.8 50.4" y="0 0" font-size="49.3" font-style="italic" text-anchor="middle" fill="#000" stroke="#000" stroke-width="0.9"><tspan class="d" font-size="47.3">3</tspan>A</text>
<text transform="translate(1855.3 2040.8) rotate(0.2) scale(0.7151 1)" x="17.1 51.4" y="0 0" font-size="50.3" font-style="italic" text-anchor="middle" fill="#000" stroke="#000" stroke-width="0.9"><tspan class="d" font-size="48.2">2</tspan>A</text>
<text transform="translate(1856.5 2178.2) rotate(0.2) scale(0.5722 1)" x="18.2 54.5" y="0 0" font-size="53.3" font-style="italic" text-anchor="middle" fill="#000" stroke="#000" stroke-width="1"><tspan class="d" font-size="51.1">1</tspan>A</text>
<text transform="translate(1838.8 2297.9) rotate(0.2) scale(0.6909 1)" x="17.8 53.3 88.8 124.3" y="0 0 0 0" font-size="52.1" font-style="italic" text-anchor="middle" fill="#000" stroke="#000" stroke-width="1"><tspan class="d" font-size="49.9">0</tspan>.<tspan class="d" font-size="49.9">5</tspan>A</text>
<text transform="translate(1838.8 2373.2) rotate(0.2) scale(0.6986 1)" x="17.1 51.4 85.7 120.0" y="0 0 0 0" font-size="50.3" font-style="italic" text-anchor="middle" fill="#000" stroke="#000" stroke-width="0.9"><tspan class="d" font-size="48.2">0</tspan>.<tspan class="d" font-size="48.2">1</tspan>A</text>
<text transform="translate(1848.3 2453.9) rotate(0.2) scale(0.6980 1)" x="17.7 53.1 88.4 123.8 159.2" y="0 0 0 0 0" font-size="51.9" font-style="italic" text-anchor="middle" fill="#000" stroke="#000" stroke-width="1"><tspan class="d" font-size="49.7">0</tspan>.<tspan class="d" font-size="49.7">01</tspan>A</text>
<text x="1067.6" y="3316" style="font-family:'Liberation Serif',serif" font-size="51" fill="#000">3</text>
<text transform="translate(1040.4 3314.3) scale(0.485 1)" style="font-family:'Liberation Serif',serif" font-size="76" fill="#000">-</text>
<text transform="translate(1107.5 3314.3) scale(0.485 1)" style="font-family:'Liberation Serif',serif" font-size="76" fill="#000">-</text>
<g class="wm" fill="#999" opacity="0.6" font-size="32.4">
<text transform="translate(-347.9 -109.1) rotate(-30)" textLength="277.4" style="font-family:'Liberation Sans',sans-serif">ZEUYA INDUSTRY</text>
<text transform="translate(16 -109.1) rotate(-30)" textLength="277.4" style="font-family:'Liberation Sans',sans-serif">ZEUYA INDUSTRY</text>
<text transform="translate(379.9 -109.1) rotate(-30)" textLength="277.4" style="font-family:'Liberation Sans',sans-serif">ZEUYA INDUSTRY</text>
<text transform="translate(743.9 -109.1) rotate(-30)" textLength="277.4" style="font-family:'Liberation Sans',sans-serif">ZEUYA INDUSTRY</text>
<text transform="translate(1107.8 -109.1) rotate(-30)" textLength="277.4" style="font-family:'Liberation Sans',sans-serif">ZEUYA INDUSTRY</text>
<text transform="translate(1471.8 -109.1) rotate(-30)" textLength="277.4" style="font-family:'Liberation Sans',sans-serif">ZEUYA INDUSTRY</text>
<text transform="translate(1835.7 -109.1) rotate(-30)" textLength="277.4" style="font-family:'Liberation Sans',sans-serif">ZEUYA INDUSTRY</text>
<text transform="translate(2199.6 -109.1) rotate(-30)" textLength="277.4" style="font-family:'Liberation Sans',sans-serif">ZEUYA INDUSTRY</text>
<text transform="translate(-347.9 168.8) rotate(-30)" textLength="277.4" style="font-family:'Liberation Sans',sans-serif">ZEUYA INDUSTRY</text>
<text transform="translate(16 168.8) rotate(-30)" textLength="277.4" style="font-family:'Liberation Sans',sans-serif">ZEUYA INDUSTRY</text>
<text transform="translate(379.9 168.8) rotate(-30)" textLength="277.4" style="font-family:'Liberation Sans',sans-serif">ZEUYA INDUSTRY</text>
<text transform="translate(743.9 168.8) rotate(-30)" textLength="277.4" style="font-family:'Liberation Sans',sans-serif">ZEUYA INDUSTRY</text>
<text transform="translate(1107.8 168.8) rotate(-30)" textLength="277.4" style="font-family:'Liberation Sans',sans-serif">ZEUYA INDUSTRY</text>
<text transform="translate(1471.8 168.8) rotate(-30)" textLength="277.4" style="font-family:'Liberation Sans',sans-serif">ZEUYA INDUSTRY</text>
<text transform="translate(1835.7 168.8) rotate(-30)" textLength="277.4" style="font-family:'Liberation Sans',sans-serif">ZEUYA INDUSTRY</text>
<text transform="translate(2199.6 168.8) rotate(-30)" textLength="277.4" style="font-family:'Liberation Sans',sans-serif">ZEUYA INDUSTRY</text>
<text transform="translate(-347.9 446.7) rotate(-30)" textLength="277.4" style="font-family:'Liberation Sans',sans-serif">ZEUYA INDUSTRY</text>
<text transform="translate(16 446.7) rotate(-30)" textLength="277.4" style="font-family:'Liberation Sans',sans-serif">ZEUYA INDUSTRY</text>
<text transform="translate(379.9 446.7) rotate(-30)" textLength="277.4" style="font-family:'Liberation Sans',sans-serif">ZEUYA INDUSTRY</text>
<text transform="translate(743.9 446.7) rotate(-30)" textLength="277.4" style="font-family:'Liberation Sans',sans-serif">ZEUYA INDUSTRY</text>
<text transform="translate(1107.8 446.7) rotate(-30)" textLength="277.4" style="font-family:'Liberation Sans',sans-serif">ZEUYA INDUSTRY</text>
<text transform="translate(1471.8 446.7) rotate(-30)" textLength="277.4" style="font-family:'Liberation Sans',sans-serif">ZEUYA INDUSTRY</text>
<text transform="translate(1835.7 446.7) rotate(-30)" textLength="277.4" style="font-family:'Liberation Sans',sans-serif">ZEUYA INDUSTRY</text>
<text transform="translate(2199.6 446.7) rotate(-30)" textLength="277.4" style="font-family:'Liberation Sans',sans-serif">ZEUYA INDUSTRY</text>
<text transform="translate(-347.9 724.7) rotate(-30)" textLength="277.4" style="font-family:'Liberation Sans',sans-serif">ZEUYA INDUSTRY</text>
<text transform="translate(16 724.7) rotate(-30)" textLength="277.4" style="font-family:'Liberation Sans',sans-serif">ZEUYA INDUSTRY</text>
<text transform="translate(379.9 724.7) rotate(-30)" textLength="277.4" style="font-family:'Liberation Sans',sans-serif">ZEUYA INDUSTRY</text>
<text transform="translate(743.9 724.7) rotate(-30)" textLength="277.4" style="font-family:'Liberation Sans',sans-serif">ZEUYA INDUSTRY</text>
<text transform="translate(1107.8 724.7) rotate(-30)" textLength="277.4" style="font-family:'Liberation Sans',sans-serif">ZEUYA INDUSTRY</text>
<text transform="translate(1471.8 724.7) rotate(-30)" textLength="277.4" style="font-family:'Liberation Sans',sans-serif">ZEUYA INDUSTRY</text>
<text transform="translate(1835.7 724.7) rotate(-30)" textLength="277.4" style="font-family:'Liberation Sans',sans-serif">ZEUYA INDUSTRY</text>
<text transform="translate(2199.6 724.7) rotate(-30)" textLength="277.4" style="font-family:'Liberation Sans',sans-serif">ZEUYA INDUSTRY</text>
<text transform="translate(-347.9 1002.6) rotate(-30)" textLength="277.4" style="font-family:'Liberation Sans',sans-serif">ZEUYA INDUSTRY</text>
<text transform="translate(16 1002.6) rotate(-30)" textLength="277.4" style="font-family:'Liberation Sans',sans-serif">ZEUYA INDUSTRY</text>
<text transform="translate(379.9 1002.6) rotate(-30)" textLength="277.4" style="font-family:'Liberation Sans',sans-serif">ZEUYA INDUSTRY</text>
<text transform="translate(743.9 1002.6) rotate(-30)" textLength="277.4" style="font-family:'Liberation Sans',sans-serif">ZEUYA INDUSTRY</text>
<text transform="translate(1107.8 1002.6) rotate(-30)" textLength="277.4" style="font-family:'Liberation Sans',sans-serif">ZEUYA INDUSTRY</text>
<text transform="translate(1471.8 1002.6) rotate(-30)" textLength="277.4" style="font-family:'Liberation Sans',sans-serif">ZEUYA INDUSTRY</text>
<text transform="translate(1835.7 1002.6) rotate(-30)" textLength="277.4" style="font-family:'Liberation Sans',sans-serif">ZEUYA INDUSTRY</text>
<text transform="translate(2199.6 1002.6) rotate(-30)" textLength="277.4" style="font-family:'Liberation Sans',sans-serif">ZEUYA INDUSTRY</text>
<text transform="translate(-347.9 1280.5) rotate(-30)" textLength="277.4" style="font-family:'Liberation Sans',sans-serif">ZEUYA INDUSTRY</text>
<text transform="translate(16 1280.5) rotate(-30)" textLength="277.4" style="font-family:'Liberation Sans',sans-serif">ZEUYA INDUSTRY</text>
<text transform="translate(379.9 1280.5) rotate(-30)" textLength="277.4" style="font-family:'Liberation Sans',sans-serif">ZEUYA INDUSTRY</text>
<text transform="translate(743.9 1280.5) rotate(-30)" textLength="277.4" style="font-family:'Liberation Sans',sans-serif">ZEUYA INDUSTRY</text>
<text transform="translate(1107.8 1280.5) rotate(-30)" textLength="277.4" style="font-family:'Liberation Sans',sans-serif">ZEUYA INDUSTRY</text>
<text transform="translate(1471.8 1280.5) rotate(-30)" textLength="277.4" style="font-family:'Liberation Sans',sans-serif">ZEUYA INDUSTRY</text>
<text transform="translate(1835.7 1280.5) rotate(-30)" textLength="277.4" style="font-family:'Liberation Sans',sans-serif">ZEUYA INDUSTRY</text>
<text transform="translate(2199.6 1280.5) rotate(-30)" textLength="277.4" style="font-family:'Liberation Sans',sans-serif">ZEUYA INDUSTRY</text>
<text transform="translate(-347.9 1558.5) rotate(-30)" textLength="277.4" style="font-family:'Liberation Sans',sans-serif">ZEUYA INDUSTRY</text>
<text transform="translate(16 1558.5) rotate(-30)" textLength="277.4" style="font-family:'Liberation Sans',sans-serif">ZEUYA INDUSTRY</text>
<text transform="translate(379.9 1558.5) rotate(-30)" textLength="277.4" style="font-family:'Liberation Sans',sans-serif">ZEUYA INDUSTRY</text>
<text transform="translate(743.9 1558.5) rotate(-30)" textLength="277.4" style="font-family:'Liberation Sans',sans-serif">ZEUYA INDUSTRY</text>
<text transform="translate(1107.8 1558.5) rotate(-30)" textLength="277.4" style="font-family:'Liberation Sans',sans-serif">ZEUYA INDUSTRY</text>
<text transform="translate(1471.8 1558.5) rotate(-30)" textLength="277.4" style="font-family:'Liberation Sans',sans-serif">ZEUYA INDUSTRY</text>
<text transform="translate(1835.7 1558.5) rotate(-30)" textLength="277.4" style="font-family:'Liberation Sans',sans-serif">ZEUYA INDUSTRY</text>
<text transform="translate(2199.6 1558.5) rotate(-30)" textLength="277.4" style="font-family:'Liberation Sans',sans-serif">ZEUYA INDUSTRY</text>
<text transform="translate(-347.9 1836.4) rotate(-30)" textLength="277.4" style="font-family:'Liberation Sans',sans-serif">ZEUYA INDUSTRY</text>
<text transform="translate(16 1836.4) rotate(-30)" textLength="277.4" style="font-family:'Liberation Sans',sans-serif">ZEUYA INDUSTRY</text>
<text transform="translate(379.9 1836.4) rotate(-30)" textLength="277.4" style="font-family:'Liberation Sans',sans-serif">ZEUYA INDUSTRY</text>
<text transform="translate(743.9 1836.4) rotate(-30)" textLength="277.4" style="font-family:'Liberation Sans',sans-serif">ZEUYA INDUSTRY</text>
<text transform="translate(1107.8 1836.4) rotate(-30)" textLength="277.4" style="font-family:'Liberation Sans',sans-serif">ZEUYA INDUSTRY</text>
<text transform="translate(1471.8 1836.4) rotate(-30)" textLength="277.4" style="font-family:'Liberation Sans',sans-serif">ZEUYA INDUSTRY</text>
<text transform="translate(1835.7 1836.4) rotate(-30)" textLength="277.4" style="font-family:'Liberation Sans',sans-serif">ZEUYA INDUSTRY</text>
<text transform="translate(2199.6 1836.4) rotate(-30)" textLength="277.4" style="font-family:'Liberation Sans',sans-serif">ZEUYA INDUSTRY</text>
<text transform="translate(-347.9 2114.3) rotate(-30)" textLength="277.4" style="font-family:'Liberation Sans',sans-serif">ZEUYA INDUSTRY</text>
<text transform="translate(16 2114.3) rotate(-30)" textLength="277.4" style="font-family:'Liberation Sans',sans-serif">ZEUYA INDUSTRY</text>
<text transform="translate(379.9 2114.3) rotate(-30)" textLength="277.4" style="font-family:'Liberation Sans',sans-serif">ZEUYA INDUSTRY</text>
<text transform="translate(743.9 2114.3) rotate(-30)" textLength="277.4" style="font-family:'Liberation Sans',sans-serif">ZEUYA INDUSTRY</text>
<text transform="translate(1107.8 2114.3) rotate(-30)" textLength="277.4" style="font-family:'Liberation Sans',sans-serif">ZEUYA INDUSTRY</text>
<text transform="translate(1471.8 2114.3) rotate(-30)" textLength="277.4" style="font-family:'Liberation Sans',sans-serif">ZEUYA INDUSTRY</text>
<text transform="translate(1835.7 2114.3) rotate(-30)" textLength="277.4" style="font-family:'Liberation Sans',sans-serif">ZEUYA INDUSTRY</text>
<text transform="translate(2199.6 2114.3) rotate(-30)" textLength="277.4" style="font-family:'Liberation Sans',sans-serif">ZEUYA INDUSTRY</text>
<text transform="translate(-347.9 2392.2) rotate(-30)" textLength="277.4" style="font-family:'Liberation Sans',sans-serif">ZEUYA INDUSTRY</text>
<text transform="translate(16 2392.2) rotate(-30)" textLength="277.4" style="font-family:'Liberation Sans',sans-serif">ZEUYA INDUSTRY</text>
<text transform="translate(379.9 2392.2) rotate(-30)" textLength="277.4" style="font-family:'Liberation Sans',sans-serif">ZEUYA INDUSTRY</text>
<text transform="translate(743.9 2392.2) rotate(-30)" textLength="277.4" style="font-family:'Liberation Sans',sans-serif">ZEUYA INDUSTRY</text>
<text transform="translate(1107.8 2392.2) rotate(-30)" textLength="277.4" style="font-family:'Liberation Sans',sans-serif">ZEUYA INDUSTRY</text>
<text transform="translate(1471.8 2392.2) rotate(-30)" textLength="277.4" style="font-family:'Liberation Sans',sans-serif">ZEUYA INDUSTRY</text>
<text transform="translate(1835.7 2392.2) rotate(-30)" textLength="277.4" style="font-family:'Liberation Sans',sans-serif">ZEUYA INDUSTRY</text>
<text transform="translate(2199.6 2392.2) rotate(-30)" textLength="277.4" style="font-family:'Liberation Sans',sans-serif">ZEUYA INDUSTRY</text>
<text transform="translate(-347.9 2670.2) rotate(-30)" textLength="277.4" style="font-family:'Liberation Sans',sans-serif">ZEUYA INDUSTRY</text>
<text transform="translate(16 2670.2) rotate(-30)" textLength="277.4" style="font-family:'Liberation Sans',sans-serif">ZEUYA INDUSTRY</text>
<text transform="translate(379.9 2670.2) rotate(-30)" textLength="277.4" style="font-family:'Liberation Sans',sans-serif">ZEUYA INDUSTRY</text>
<text transform="translate(743.9 2670.2) rotate(-30)" textLength="277.4" style="font-family:'Liberation Sans',sans-serif">ZEUYA INDUSTRY</text>
<text transform="translate(1107.8 2670.2) rotate(-30)" textLength="277.4" style="font-family:'Liberation Sans',sans-serif">ZEUYA INDUSTRY</text>
<text transform="translate(1471.8 2670.2) rotate(-30)" textLength="277.4" style="font-family:'Liberation Sans',sans-serif">ZEUYA INDUSTRY</text>
<text transform="translate(1835.7 2670.2) rotate(-30)" textLength="277.4" style="font-family:'Liberation Sans',sans-serif">ZEUYA INDUSTRY</text>
<text transform="translate(2199.6 2670.2) rotate(-30)" textLength="277.4" style="font-family:'Liberation Sans',sans-serif">ZEUYA INDUSTRY</text>
<text transform="translate(-347.9 2948.1) rotate(-30)" textLength="277.4" style="font-family:'Liberation Sans',sans-serif">ZEUYA INDUSTRY</text>
<text transform="translate(16 2948.1) rotate(-30)" textLength="277.4" style="font-family:'Liberation Sans',sans-serif">ZEUYA INDUSTRY</text>
<text transform="translate(379.9 2948.1) rotate(-30)" textLength="277.4" style="font-family:'Liberation Sans',sans-serif">ZEUYA INDUSTRY</text>
<text transform="translate(743.9 2948.1) rotate(-30)" textLength="277.4" style="font-family:'Liberation Sans',sans-serif">ZEUYA INDUSTRY</text>
<text transform="translate(1107.8 2948.1) rotate(-30)" textLength="277.4" style="font-family:'Liberation Sans',sans-serif">ZEUYA INDUSTRY</text>
<text transform="translate(1471.8 2948.1) rotate(-30)" textLength="277.4" style="font-family:'Liberation Sans',sans-serif">ZEUYA INDUSTRY</text>
<text transform="translate(1835.7 2948.1) rotate(-30)" textLength="277.4" style="font-family:'Liberation Sans',sans-serif">ZEUYA INDUSTRY</text>
<text transform="translate(2199.6 2948.1) rotate(-30)" textLength="277.4" style="font-family:'Liberation Sans',sans-serif">ZEUYA INDUSTRY</text>
<text transform="translate(-347.9 3226) rotate(-30)" textLength="277.4" style="font-family:'Liberation Sans',sans-serif">ZEUYA INDUSTRY</text>
<text transform="translate(16 3226) rotate(-30)" textLength="277.4" style="font-family:'Liberation Sans',sans-serif">ZEUYA INDUSTRY</text>
<text transform="translate(379.9 3226) rotate(-30)" textLength="277.4" style="font-family:'Liberation Sans',sans-serif">ZEUYA INDUSTRY</text>
<text transform="translate(743.9 3226) rotate(-30)" textLength="277.4" style="font-family:'Liberation Sans',sans-serif">ZEUYA INDUSTRY</text>
<text transform="translate(1107.8 3226) rotate(-30)" textLength="277.4" style="font-family:'Liberation Sans',sans-serif">ZEUYA INDUSTRY</text>
<text transform="translate(1471.8 3226) rotate(-30)" textLength="277.4" style="font-family:'Liberation Sans',sans-serif">ZEUYA INDUSTRY</text>
<text transform="translate(1835.7 3226) rotate(-30)" textLength="277.4" style="font-family:'Liberation Sans',sans-serif">ZEUYA INDUSTRY</text>
<text transform="translate(2199.6 3226) rotate(-30)" textLength="277.4" style="font-family:'Liberation Sans',sans-serif">ZEUYA INDUSTRY</text>
<text transform="translate(-347.9 3504) rotate(-30)" textLength="277.4" style="font-family:'Liberation Sans',sans-serif">ZEUYA INDUSTRY</text>
<text transform="translate(16 3504) rotate(-30)" textLength="277.4" style="font-family:'Liberation Sans',sans-serif">ZEUYA INDUSTRY</text>
<text transform="translate(379.9 3504) rotate(-30)" textLength="277.4" style="font-family:'Liberation Sans',sans-serif">ZEUYA INDUSTRY</text>
<text transform="translate(743.9 3504) rotate(-30)" textLength="277.4" style="font-family:'Liberation Sans',sans-serif">ZEUYA INDUSTRY</text>
<text transform="translate(1107.8 3504) rotate(-30)" textLength="277.4" style="font-family:'Liberation Sans',sans-serif">ZEUYA INDUSTRY</text>
<text transform="translate(1471.8 3504) rotate(-30)" textLength="277.4" style="font-family:'Liberation Sans',sans-serif">ZEUYA INDUSTRY</text>
<text transform="translate(1835.7 3504) rotate(-30)" textLength="277.4" style="font-family:'Liberation Sans',sans-serif">ZEUYA INDUSTRY</text>
<text transform="translate(2199.6 3504) rotate(-30)" textLength="277.4" style="font-family:'Liberation Sans',sans-serif">ZEUYA INDUSTRY</text>
</g>
</svg></body></html>
